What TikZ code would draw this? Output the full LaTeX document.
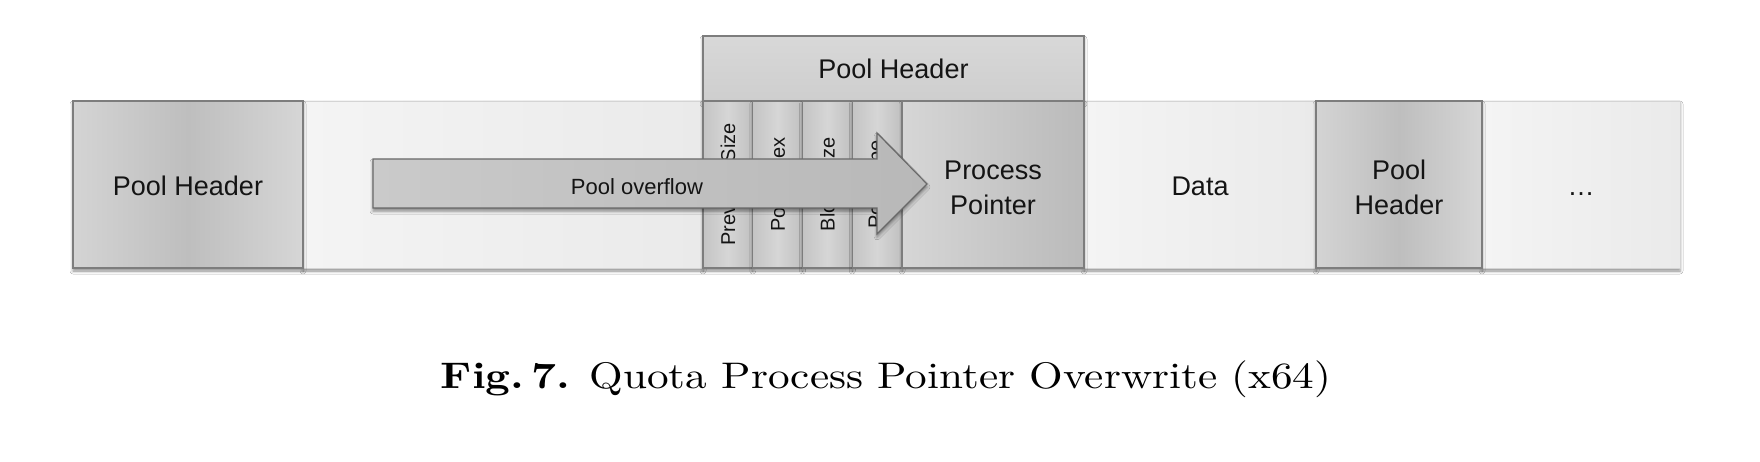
\documentclass[tikz,border=0pt]{standalone}
\usepackage{fontspec}
\newfontfamily\arial{Liberation Sans}
\newfontfamily\capfont{lmroman10-regular}[Extension=.otf,BoldFont=lmroman10-bold]
\usetikzlibrary{shadows,shadows.blur}
\definecolor{bordergray}{RGB}{125,125,125}
\definecolor{lightborder}{RGB}{212,212,212}
\definecolor{darkA}{RGB}{212,212,212}
\definecolor{darkB}{RGB}{190,190,190}
\definecolor{darkC}{RGB}{214,214,214}
\definecolor{lightA}{RGB}{244,244,244}
\definecolor{lightB}{RGB}{234,234,234}
\definecolor{topA}{RGB}{216,216,216}
\definecolor{topB}{RGB}{206,206,206}
\definecolor{colA}{RGB}{196,196,196}
\definecolor{colB}{RGB}{214,214,214}
\definecolor{colC}{RGB}{192,192,192}
\definecolor{ppA}{RGB}{214,214,214}
\definecolor{ppB}{RGB}{186,186,186}
\definecolor{arrA}{RGB}{202,202,202}
\definecolor{arrB}{RGB}{184,184,184}
\definecolor{arrBorder}{RGB}{105,105,105}
\definecolor{txt}{RGB}{20,20,20}
\newcommand{\lowstrut}{\rule{0pt}{23pt}}
\newcommand{\firststrut}{\rule{0pt}{24.5pt}}
\begin{document}
\begin{tikzpicture}[x=1pt,y=-1pt,
  shad/.style={blur shadow={shadow xshift=0pt,shadow yshift=-3pt,shadow blur radius=3pt,shadow opacity=45}},
  box/.style={inner sep=0pt,outer sep=0pt,anchor=north west,minimum height=167pt,
    font=\arial\fontsize{27}{35}\selectfont,text=txt,align=center,shad},
  darkbox/.style={box,draw=bordergray,line width=1.2pt,left color=darkA,right color=darkC,middle color=darkB},
  lightbox/.style={box,draw=lightborder,line width=0.8pt,left color=lightA,right color=lightB},
  colbox/.style={box,draw=bordergray,line width=1.2pt,minimum width=49.75pt,
    font=\arial\fontsize{20}{24}\selectfont,left color=colA,right color=colC,middle color=colB},
  ppbox/.style={box,draw=bordergray,line width=1.2pt,left color=ppA,right color=ppB},
  topbox/.style={box,draw=bordergray,line width=1.2pt,minimum height=65pt,top color=topA,bottom color=topB},
  arrowshape/.style={draw=arrBorder,line width=1.2pt,left color=arrA,right color=arrB,shad},
  captext/.style={font=\capfont\fontsize{37}{44}\selectfont,text=black,anchor=base}
]
\useasboundingbox (0,0) rectangle (1760,462);
\fill[white] (0,0) rectangle (1760,462);
% light regions
\node[lightbox,minimum width=400pt] (free) at (303,101) {};
\node[lightbox,minimum width=232pt] (data) at (1084,101) {\lowstrut Data};
\node[lightbox,minimum width=198pt] (dots) at (1482,101) {\lowstrut …};
% dark boxes
\node[darkbox,minimum width=230pt] (ph1) at (73,101) {\lowstrut Pool Header};
\node[darkbox,minimum width=166pt] (ph2) at (1316,101) {\firststrut Pool\\Header};
% top pool header
\node[topbox,minimum width=381pt] (phtop) at (703,36) {Pool Header};
% columns
\node[colbox] (c1) at (703,101) {\rotatebox{90}{Previous Size}};
\node[colbox] (c2) at (752.75,101) {\rotatebox{90}{Pool Index}};
\node[colbox] (c3) at (802.5,101) {\rotatebox{90}{Block Size}};
\node[colbox] (c4) at (852.25,101) {\rotatebox{90}{Pool Type}};
\node[ppbox,minimum width=182pt] (pp) at (902,101) {\firststrut Process\\Pointer};
% overflow arrow
\path[arrowshape] (373,159) -- (877,159) -- (877,133) -- (927,184) -- (877,234) -- (877,208) -- (373,208) -- cycle;
\node[font=\arial\fontsize{22}{26}\selectfont,text=txt] (ovf) at (637,187) {Pool overflow};
% caption
\node[captext] (cap) at (886,388) {\scalebox{1.168}[1]{\textbf{Fig.\,7.} Quota Process Pointer Overwrite (x64)}};
\end{tikzpicture}
\end{document}
